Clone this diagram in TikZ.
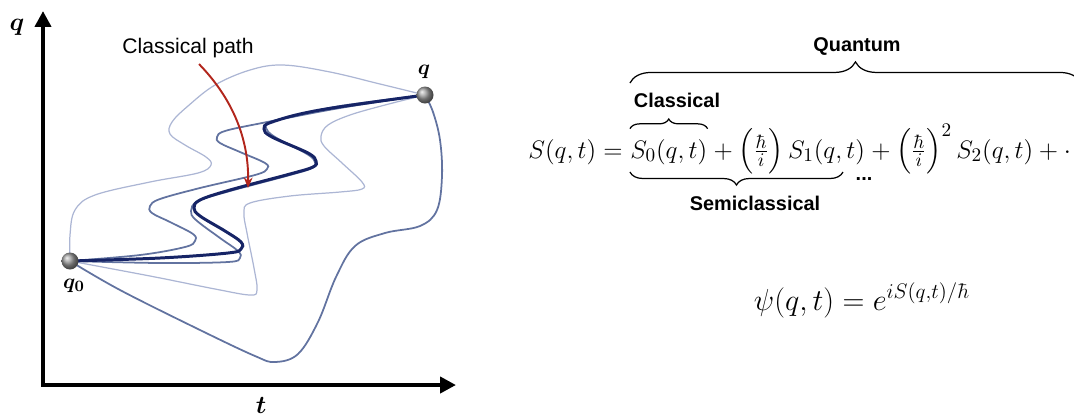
\documentclass[tikz,border=0pt]{standalone}
\usepackage{amsmath}
\usepackage{bm}
\usepackage{fontspec}
\newfontfamily\labelsans{Liberation Sans}
\usetikzlibrary{positioning,arrows.meta,decorations.pathreplacing}

\definecolor{pathdark}{RGB}{22,36,102}
\definecolor{pathmid}{RGB}{98,115,160}
\definecolor{pathlight}{RGB}{172,182,212}
\definecolor{arrowred}{RGB}{178,38,28}

\begin{document}
\begin{tikzpicture}[x=0.02cm,y=-0.02cm,
    axis/.style={line width=2.3pt,{Triangle[length=9pt,width=9pt]}-{Triangle[length=9pt,width=9pt]}},
    ball/.style={circle,ball color=gray!80,minimum size=0.34cm,inner sep=0pt},
    darkpath/.style={pathdark,line width=1.7pt},
    midpath/.style={pathmid,line width=1pt},
    lightpath/.style={pathlight,line width=0.7pt},
    axlabel/.style={font=\fontsize{15}{18}\selectfont},
    eqn/.style={inner sep=0pt,font=\fontsize{15.5}{19}\selectfont},
    tag/.style={font=\labelsans\bfseries\fontsize{11.3}{13}\selectfont},
    brace/.style={decorate,decoration={brace,amplitude=#1},line width=0.7pt}]

  \useasboundingbox (0,0) rectangle (1074,414);

  \coordinate (origin) at (43,385);
  \draw[axis] (43,11) -- (origin) -- (456,385);
  \node[axlabel] (qaxis) at (17,27) {$\bm{q}$};
  \node[axlabel,anchor=base] (taxis) at (261,413) {$\bm{t}$};

  \coordinate (q0) at (70,261);
  \coordinate (q1) at (425,95);

  \draw[lightpath] plot[smooth,tension=0.6] coordinates {(q0) (70,235) (75,210) (95,195) (150,182) (198,173) (211,165) (206,157) (185,145) (170,134) (172,122) (188,106) (215,85) (250,70) (283,65) (330,72) (380,84) (q1)};
  \draw[lightpath] plot[smooth,tension=0.6] coordinates {(q0) (150,276) (215,289) (250,295) (257,290) (254,268) (247,233) (244,213) (250,203) (290,196) (340,192) (362,189) (362,182) (342,163) (324,146) (321,136) (328,125) (350,115) (385,105) (q1)};
  \draw[midpath] plot[smooth,tension=0.6] coordinates {(q0) (120,290) (200,330) (255,356) (275,362) (298,354) (318,322) (336,277) (355,246) (385,233) (420,226) (437,210) (442,176) (440,140) (433,112) (q1)};
  \draw[midpath] plot[smooth,tension=0.6] coordinates {(q0) (140,255) (185,247) (195,241) (193,234) (170,222) (152,213) (150,206) (160,199) (200,188) (255,175) (267,169) (265,163) (240,152) (220,143) (217,137) (225,131) (262,123) (340,108) (q1)};
  \draw[midpath] plot[smooth,tension=0.6] coordinates {(q0) (160,263) (228,262) (240,258) (238,251) (220,238) (196,220) (191,211) (198,201) (230,191) (290,175) (312,168) (315,162) (307,154) (275,137) (266,128) (270,122) (300,115) (340,106) (q1)};
  \draw[darkpath] plot[smooth,tension=0.6] coordinates {(q0) (160,258) (228,253) (241,249) (241,242) (225,231) (200,216) (194,208) (200,200) (230,190) (290,174) (313,167) (316,161) (308,153) (272,137) (264,129) (272,122) (320,110) (q1)};

  \node[ball] (start) at (q0) {};
  \node[ball] (end) at (q1) {};
  \node[font=\fontsize{12.5}{15}\selectfont] (startlab) at (74,286) {$\bm{q_0}$};
  \node[font=\fontsize{12}{15}\selectfont] (endlab) at (424,72) {$\bm{q}$};

  \node[font=\labelsans\fontsize{12}{14}\selectfont] (cpath) at (188,48) {Classical path};
  \coordinate (ptip) at (248,188);
  \draw[arrowred,line width=1.1pt,-{Stealth[length=6pt,width=5pt]}] ([xshift=0.22cm]cpath.south) .. controls (232,98) and (249,138) .. (ptip);

  \node[eqn,anchor=base west] (lhs) at (528,158) {$S(q,t) = {}$};
  \node[eqn,anchor=base west] (szero) at (lhs.base east) {$S_0(q,t)$};
  \node[eqn,anchor=base west] (sone) at (szero.base east) {${}+\left(\frac{\hbar}{i}\right)S_1(q,t)$};
  \node[eqn,anchor=base west] (stwo) at (sone.base east) {${}+\left(\frac{\hbar}{i}\right)^{2} S_2(q,t)+\cdots$};

  \coordinate (qright) at (1081,83);
  \draw[brace=12pt] (szero.south west |- qright) -- (qright);
  \node[tag] (quantum) at (857,47) {Quantum};

  \draw[brace=5.5pt] ([yshift=0.2cm]szero.north west) -- ([yshift=0.2cm]szero.north east);
  \node[tag] (classical) at (677,100) {Classical};

  \coordinate (semiright) at (843,172);
  \draw[brace=7.4pt] (semiright) -- (szero.south west |- semiright);
  \node[tag,anchor=base] (dots) at (864,180) {...};
  \node[tag] (semi) at (755,203) {Semiclassical};

  \node[eqn,anchor=base,font=\fontsize{17.8}{21}\selectfont] (psi) at (862,310) {$\psi(q,t) = e^{iS(q,t)/\hbar}$};
\end{tikzpicture}
\end{document}
